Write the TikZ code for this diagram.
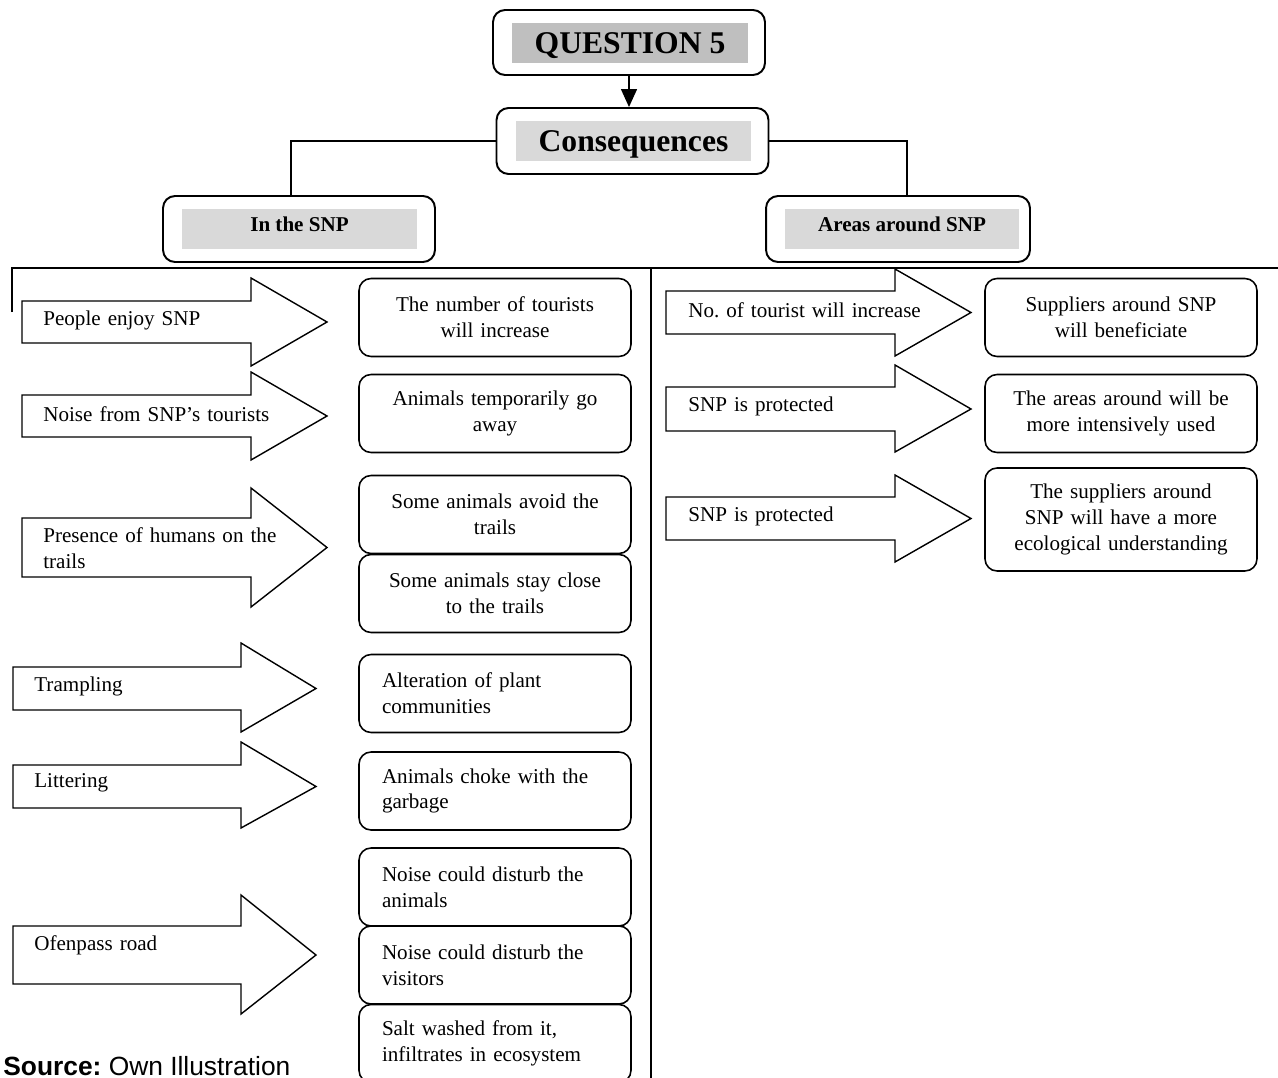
\documentclass[tikz,border=0pt]{standalone}
\usepackage{fontspec}
\setmainfont{Liberation Serif}
\newfontfamily\srcfont{Liberation Sans}
\usepackage{xcolor}
\usetikzlibrary{calc,arrows.meta}
\frenchspacing
\definecolor{headgrey}{RGB}{191,191,191}
\definecolor{lightgrey}{RGB}{217,217,217}
\newcommand{\bighead}{\fontsize{18}{21}\selectfont\bfseries}
\newcommand{\smallhead}{\fontsize{12}{14.7}\selectfont\bfseries}
\newcommand{\bigarrow}[7]{\draw [bigarrow] (#1,#5) -- (#2,#5) -- (#2,#4) -- (#3,{(#5+#6)/2}) -- (#2,#7) -- (#2,#6) -- (#1,#6) -- cycle;}
\tikzstyle{line} = [draw, line width=0.8pt]
\tikzstyle{frame} = [draw, line width=1.1pt, rounded corners=2.4mm, minimum width=5.44cm, minimum height=1.32cm]
\tikzstyle{greybar} = [fill=lightgrey, minimum width=4.7cm, minimum height=0.8cm, inner sep=0pt]
\tikzstyle{result} = [draw, line width=0.9pt, rounded corners=2.4mm, minimum height=1.56cm, text width=4.52cm, inner xsep=0.46cm, align=center]
\tikzstyle{result_left} = [result, align=left]
\tikzstyle{cause} = [text width=5.2cm, align=left, anchor=west, inner sep=0pt]
\tikzstyle{bigarrow} = [draw, line width=0.8pt, line join=miter]

\begin{document}
\begin{tikzpicture}[x=0.02cm, y=-0.02cm, font=\fontsize{12}{14.7}\selectfont]

\useasboundingbox (0,0) rectangle (1278,1078);

\node [frame, minimum height=1.3cm] (q5) at (629,42.5) {};
\node [greybar, fill=headgrey, minimum width=4.72cm] (q5_bar) at (630,43) {};
\node [font=\bighead] at ($(q5_bar)+(0,3)$) {QUESTION 5};

\node [frame] (cons) at (632.5,141) {};
\node [greybar] (cons_bar) at (633.5,141) {};
\node [font=\bighead] at ($(cons_bar)+(0,3)$) {Consequences};

\node [frame] (insnp) at (299,229) {};
\node [greybar] (insnp_bar) at (299.5,229) {};
\node [font=\smallhead] at ($(insnp_bar)+(0,-5)$) {In the SNP};

\node [frame, minimum width=5.28cm] (areas) at (898,229) {};
\node [greybar] (areas_bar) at (902,229) {};
\node [font=\smallhead] at ($(areas_bar)+(0,-5)$) {Areas around SNP};

\path [line, -{Triangle[length=3.6mm,width=3.2mm]}] (q5.south) -- (q5.south |- cons.north);
\path [line] (cons.west) -| ($(insnp.north)+(-8,0)$);
\path [line] (cons.east) -| ($(areas.north)+(9,0)$);

\draw [line] (12,312) -- (12,268) -- (1278,268);
\draw [line] (651,268) -- (651,1078);

\bigarrow{22}{251}{327}{278}{301}{343}{366}
\bigarrow{22}{251}{327}{372}{395}{437}{460}
\bigarrow{22}{251}{327}{488}{518}{577}{607}
\bigarrow{13}{241}{316}{643}{667}{710}{732}
\bigarrow{13}{241}{316}{742}{765}{808}{828}
\bigarrow{13}{241}{316}{895}{926}{984}{1014}
\bigarrow{666}{895}{971}{269}{291}{334}{356}
\bigarrow{666}{895}{971}{365}{387}{431}{452}
\bigarrow{666}{895}{971}{475}{497}{540}{562}

\node [cause] (in1) at (43,320) {People enjoy SNP};
\node [cause] (in2) at (43,414) {Noise from SNP's tourists};
\node [cause] (in3) at (43,548) {Presence of humans on the\\trails};
\node [cause] (in4) at (34,686) {Trampling};
\node [cause] (in5) at (34,783) {Littering};
\node [cause] (in6) at (34,945) {Ofenpass road};

\node [result] (out1) at (495,317.5) {The number of tourists\\will increase};
\node [result] (out2) at (495,413.5) {Animals temporarily go\\away};
\node [result] (out3) at (495,514.5) {Some animals avoid the\\trails};
\node [result] (out4) at (495,593.5) {Some animals stay close\\to the trails};
\node [result_left] (out5) at (495,693.5) {Alteration of plant\\communities};
\node [result_left] (out6) at (495,791) {Animals choke with the\\garbage};
\node [result_left] (out7) at (495,887) {Noise could disturb the\\animals};
\node [result_left] (out8) at (495,965) {Noise could disturb the\\visitors};
\node [result_left] (out9) at (495,1043.5) {Salt washed from it,\\infiltrates in ecosystem};

\node [cause] (around1) at (688,310) {No. of tourist will increase};
\node [cause] (around2) at (688,406) {SNP is protected};
\node [cause] (around3) at (688,516) {SNP is protected};

\node [result] (res1) at (1121,317.5) {Suppliers around SNP\\will beneficiate};
\node [result] (res2) at (1121,413.5) {The areas around will be\\more intensively used};
\node [result, minimum height=2.06cm] (res3) at (1121,519.5) {The suppliers around\\SNP will have a more\\ecological understanding};

\node [anchor=base west, inner sep=0pt, font=\srcfont\fontsize{15}{18}\selectfont] (src) at (3,1075) {\textbf{Source:} Own Illustration};

\end{tikzpicture}
\end{document}
